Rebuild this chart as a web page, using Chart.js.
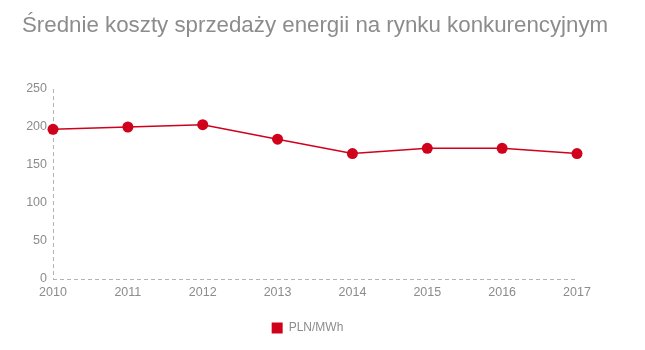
<!DOCTYPE html>
<html>
<head>
<meta charset="utf-8">
<script src="https://cdn.jsdelivr.net/npm/chart.js@4"></script>
<style>
  html, body { margin: 0; padding: 0; background: #fff; }
  #wrap { width: 645px; height: 350px; position: relative; }
  #title {
    position: absolute; left: 22px; top: 14px; margin: 0;
    font: normal 22.3px/22px 'Liberation Sans', Arial, sans-serif;
    color: #8c8c8c; white-space: nowrap;
  }
</style>
</head>
<body>
<div id="wrap">
  <h1 id="title"></h1>
  <canvas id="chart"></canvas>
</div>
<script>
const years = ['2010','2011','2012','2013','2014','2015','2016','2017'];
const costs = [197, 200, 203, 184, 165, 172, 172, 165];
const seriesName = 'PLN/MWh';
const titleText = 'Średnie koszty sprzedaży energii na rynku konkurencyjnym';

const RED = '#d0021b';
const GREY = '#8c8c8c';
const AXIS = '#b3b3b3';
const FONT = "'Liberation Sans', Arial, sans-serif";

document.getElementById('title').textContent = titleText;

// legend sits a little right of the layout box centre in the original
const legendShift = {
  id: 'legendShift',
  afterLayout(chart) {
    if (!chart.legend) return;
    chart.legend.left += 8;
    chart.legend.right += 8;
  }
};

// only the first grid line of each axis is shown, which gives dashed axis lines
const firstOnly = ctx => ctx.index === 0 ? AXIS : 'rgba(0,0,0,0)';

new Chart(document.getElementById('chart'), {
  type: 'line',
  data: {
    labels: years,
    datasets: [{
      label: seriesName,
      data: costs,
      borderColor: RED,
      backgroundColor: RED,
      borderWidth: 1.5,
      pointRadius: 5.5,
      pointHoverRadius: 6,
      pointBackgroundColor: RED,
      pointBorderWidth: 0,
      tension: 0
    }]
  },
  plugins: [legendShift],
  options: {
    responsive: true, maintainAspectRatio: false, animation: false,
    layout: { padding: { left: 22, right: 68, top: 89, bottom: 6 } },
    plugins: {
      title: { display: false },
      legend: {
        position: 'bottom',
        labels: {
          color: GREY, usePointStyle: true, pointStyle: 'rect', boxWidth: 11, boxHeight: 11,
          font: { family: FONT, size: 12 }, padding: 10
        }
      },
      tooltip: { enabled: false }
    },
    scales: {
      x: {
        offset: false,
        grid: { display: true, drawTicks: false, color: firstOnly, lineWidth: 1 },
        border: { display: false, dash: [4, 3] },
        ticks: { color: GREY, font: { family: FONT, size: 12.5 }, padding: 6, maxRotation: 0 },
        afterFit: s => { s.height += 6; }
      },
      y: {
        min: 0, max: 250,
        grid: { display: true, drawTicks: false, color: firstOnly, lineWidth: 1 },
        border: { display: false, dash: [4, 3] },
        ticks: { stepSize: 50, color: GREY, font: { family: FONT, size: 12.5 }, padding: 6 },
        afterFit: s => { s.width = 31; }
      }
    }
  }
});
</script>
</body>
</html>
